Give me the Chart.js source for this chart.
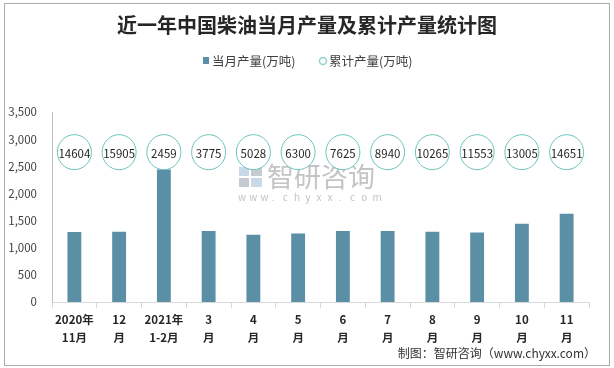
<!DOCTYPE html>
<html>
<head>
<meta charset="utf-8">
<script src="https://cdn.jsdelivr.net/npm/chart.js@4/dist/chart.umd.min.js"></script>
<style>
html, body { margin: 0; padding: 0; background: #fff; }
#wrap { width: 614px; height: 368px; position: relative; }
</style>
</head>
<body>
<div id="wrap"><canvas id="c" width="614" height="368"></canvas></div>
<script>
"use strict";
// categories (two-line labels)
var months = [
    ['2020年', '11月'], ['12', '月'], ['2021年', '1-2月'], ['3', '月'], ['4', '月'], ['5', '月'],
    ['6', '月'], ['7', '月'], ['8', '月'], ['9', '月'], ['10', '月'], ['11', '月']
];
// 当月产量(万吨)
var monthly = [1290, 1295, 2440, 1310, 1240, 1260, 1310, 1310, 1295, 1280, 1440, 1625];
// 累计产量(万吨)
var cumulative = [14604, 15905, 2459, 3775, 5028, 6300, 7625, 8940, 10265, 11553, 13005, 14651];
var yTicks = { min: 0, max: 3500, step: 500 };
var bubbleRow = 2760; // level on the left axis where the cumulative bubbles sit

var FONT = "'Noto Sans CJK SC', 'Noto Sans', sans-serif";
var BAR = '#5b8fa6', RING = '#6cc4bd';

var decor = {
    id: 'decor',
    beforeDraw: function (chart) {
        var ctx = chart.ctx;
        ctx.save();
        ctx.fillStyle = '#fff';
        ctx.fillRect(0, 0, chart.width, chart.height);
        ctx.strokeStyle = '#ababab';
        ctx.lineWidth = 1;
        ctx.strokeRect(4.5, 3.5, 605, 362);
        // watermark
        ctx.fillStyle = '#c9d9e8';
        ctx.fillRect(239, 167, 10, 9);
        ctx.fillRect(251, 178, 11, 9);
        ctx.fillStyle = '#c6cbd2';
        ctx.fillRect(251, 167, 11, 9);
        ctx.fillRect(239, 178, 10, 9);
        ctx.fillStyle = '#c4c4c4';
        ctx.font = '27px ' + FONT;
        ctx.textBaseline = 'middle';
        ctx.textAlign = 'left';
        ctx.fillText('智研咨询', 267, 177);
        ctx.font = '10px ' + FONT;
        var s = 'www.chyxx.com';
        for (var i = 0; i < s.length; i++) {
            ctx.fillText(s[i], 238 + i * 11.2, 197);
        }
        ctx.restore();
    },
    afterDraw: function (chart) {
        var ctx = chart.ctx, xs = chart.scales.x, ys = chart.scales.y;
        var sets = chart.data.datasets;
        var cy = ys.getPixelForValue(bubbleRow);
        ctx.save();
        ctx.lineWidth = 1;
        ctx.strokeStyle = RING;
        ctx.font = '11.5px ' + FONT;
        ctx.textAlign = 'center';
        ctx.textBaseline = 'middle';
        sets[1].data.forEach(function (v, i) {
            var cx = xs.getPixelForValue(i);
            ctx.beginPath();
            ctx.ellipse(cx, cy, 17, 17.5, 0, 0, Math.PI * 2);
            ctx.fillStyle = '#fff';
            ctx.fill();
            ctx.stroke();
            ctx.fillStyle = '#262626';
            ctx.fillText(String(v), cx, cy + 1);
        });
        // legend
        ctx.font = '12.5px ' + FONT;
        ctx.textAlign = 'left';
        ctx.fillStyle = BAR;
        ctx.fillRect(203, 57, 6, 7);
        ctx.fillStyle = '#404040';
        ctx.fillText(sets[0].label, 212, 61);
        ctx.beginPath();
        ctx.arc(323, 61, 3.5, 0, Math.PI * 2);
        ctx.strokeStyle = '#8dd3ce';
        ctx.lineWidth = 1.5;
        ctx.stroke();
        ctx.fillText(sets[1].label, 329, 61);
        // footer
        ctx.font = '12px ' + FONT;
        ctx.textAlign = 'right';
        ctx.fillStyle = '#333';
        ctx.fillText('制图：智研咨询（www.chyxx.com）', 596, 353);
        ctx.restore();
    }
};

new Chart(document.getElementById('c'), {
    data: {
        labels: months,
        datasets: [
            {
                type: 'bar', label: '当月产量(万吨)', data: monthly,
                backgroundColor: BAR, borderWidth: 0,
                barPercentage: 0.62, categoryPercentage: 0.5
            },
            {
                type: 'line', label: '累计产量(万吨)', data: cumulative, yAxisID: 'y2',
                showLine: false, pointRadius: 0, pointHoverRadius: 0
            }
        ]
    },
    options: {
        responsive: false,
        animation: false,
        layout: { padding: 0 },
        plugins: {
            tooltip: { enabled: false },
            legend: { display: false },
            title: {
                display: true,
                text: '近一年中国柴油当月产量及累计产量统计图',
                color: '#262626',
                font: { family: FONT, size: 20, weight: 'bold' },
                padding: { top: 13, bottom: 75 }
            }
        },
        scales: {
            x: {
                grid: { display: true, drawOnChartArea: false, drawTicks: true, tickLength: 6, color: '#d9d9d9', offset: true },
                border: { display: true, color: '#d9d9d9' },
                ticks: {
                    color: '#262626', padding: 3, maxRotation: 0, autoSkip: false,
                    font: { family: FONT, size: 11.5, weight: 'bold', lineHeight: 1.55 }
                },
                afterFit: function (s) { s.height = 66; }
            },
            y: {
                min: yTicks.min, max: yTicks.max,
                grid: { display: false },
                border: { display: true, color: '#bfbfbf' },
                ticks: {
                    stepSize: yTicks.step, color: '#404040', padding: 7,
                    font: { family: FONT, size: 11.5 },
                    callback: function (v) { return v.toLocaleString('en-US'); }
                },
                afterFit: function (s) { s.width = 52; }
            },
            // hidden right axis for the cumulative series; only reserves the right margin
            y2: {
                position: 'right', min: 0,
                grid: { display: false }, border: { display: false },
                ticks: { display: false },
                afterFit: function (s) { s.width = 25; }
            }
        }
    },
    plugins: [decor]
});
</script>
</body>
</html>
